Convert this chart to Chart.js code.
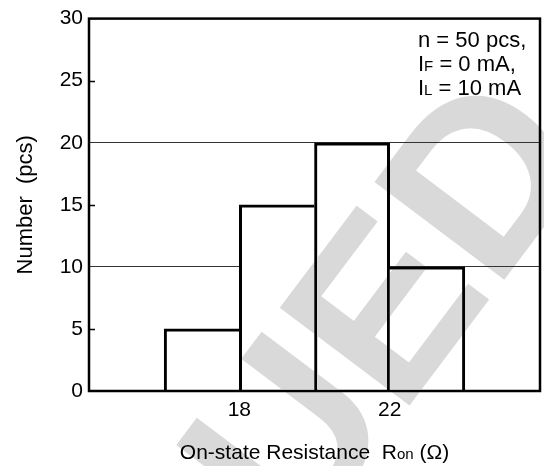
<!DOCTYPE html>
<html><head><meta charset="utf-8">
<script src="https://cdn.jsdelivr.net/npm/chart.js@4"></script>
<style>html,body{margin:0;padding:0;background:#fff}canvas{display:block}</style>
</head><body>
<canvas id="c" width="544" height="466"></canvas>
<script>
// ---- data ----
const binStarts = [16, 18, 20, 22];
const binEnds = [18, 20, 22, 24];
const counts = [5, 15, 20, 10];
const xTickValues = [18, 22];
const yTickValues = [0, 5, 10, 15, 20, 25, 30];
const yGridValues = [10, 20];
const yMinorTickValues = [5, 15, 25];
const annotationLines = [
  [["n = 50 pcs,", false]],
  [["I", false], ["F", true], [" = 0 mA,", false]],
  [["I", false], ["L", true], [" = 10 mA", false]]
];
const xTitleParts = [["On-state Resistance  R", false], ["on", true], [" (\u03A9)", false]];
const yTitleText = "Number  (pcs)";
const watermarkText = "DISCONTINUED";

const FONT = "'Liberation Sans', Arial, Helvetica, sans-serif";
Chart.defaults.font.family = FONT;
Chart.defaults.color = '#000';

const BW = 3;
function barBorder(ctx) {
  const i = ctx.dataIndex, n = counts.length;
  const left = (i === 0 || counts[i] > counts[i - 1]) ? BW : 0;
  const right = (i === n - 1 || counts[i] >= counts[i + 1]) ? BW : 0;
  return { left, right, top: BW, bottom: 0 };
}

function drawParts(ctx, parts, x, y, size, subSize) {
  let cx = x;
  for (const [t, sub] of parts) {
    ctx.font = (sub ? subSize : size) + 'px ' + FONT;
    ctx.fillText(t, cx, y);
    cx += ctx.measureText(t).width;
  }
  return cx - x;
}
function partsWidth(ctx, parts, size, subSize) {
  let w = 0;
  for (const [t, sub] of parts) {
    ctx.font = (sub ? subSize : size) + 'px ' + FONT;
    w += ctx.measureText(t).width;
  }
  return w;
}

const decorPlugin = {
  id: 'decor',
  afterDatasetsDraw(chart) {
    const { ctx, chartArea: a, scales } = chart;
    ctx.save();
    ctx.strokeStyle = '#000';
    ctx.lineWidth = 1.5;
    for (const v of yMinorTickValues) {
      const y = Math.round(scales.y.getPixelForValue(v)) + 0.5;
      ctx.beginPath(); ctx.moveTo(a.left, y); ctx.lineTo(a.left + 6, y); ctx.stroke();
    }
    ctx.lineWidth = 2.5;
    ctx.strokeRect(a.left, a.top, a.right - a.left, a.bottom - a.top);
    ctx.restore();
  },
  afterDraw(chart) {
    const { ctx, chartArea: a } = chart;
    ctx.save();
    ctx.fillStyle = '#000';
    ctx.textBaseline = 'alphabetic';
    ctx.textAlign = 'left';
    // annotation
    let y = 47;
    for (const line of annotationLines) {
      drawParts(ctx, line, 418, y, 22, 15);
      y += 24;
    }
    // x title
    const w = partsWidth(ctx, xTitleParts, 21, 15);
    drawParts(ctx, xTitleParts, (a.left + a.right) / 2 - w / 2, 459, 21, 15);
    // watermark
    ctx.globalCompositeOperation = 'darken';
    ctx.fillStyle = '#d9d9d9';
    ctx.font = 'bold 236px ' + FONT;
    ctx.translate(400, 418);
    ctx.rotate(-53 * Math.PI / 180);
    const pre = ctx.measureText(watermarkText.slice(0, -2)).width;
    ctx.fillText(watermarkText, -pre, 0);
    ctx.restore();
  }
};

new Chart(document.getElementById('c'), {
  type: 'bar',
  data: {
    datasets: [{
      data: binStarts.map((s, i) => ({ x: (s + binEnds[i]) / 2, y: counts[i] })),
      backgroundColor: '#fff',
      borderColor: '#000',
      borderWidth: barBorder,
      borderSkipped: 'start',
      barPercentage: 1,
      categoryPercentage: 1,
      grouped: false
    }]
  },
  options: {
    responsive: false,
    animation: false,
    devicePixelRatio: 1,
    layout: { padding: { left: 0, right: 4, top: 14, bottom: 0 } },
    plugins: { legend: { display: false }, tooltip: { enabled: false } },
    scales: {
      x: {
        type: 'linear', min: 14, max: 26, offset: false,
        afterBuildTicks: s => { s.ticks = xTickValues.map(v => ({ value: v })); },
        afterFit: s => { s.height = 75; },
        grid: { display: false, drawTicks: false },
        border: { display: false },
        ticks: { font: { size: 21 }, padding: 7, color: '#000', maxRotation: 0 }
      },
      y: {
        min: 0, max: 30,
        afterBuildTicks: s => { s.ticks = yTickValues.map(v => ({ value: v })); },
        afterFit: s => { s.width = 89; },
        grid: {
          drawTicks: false,
          color: c => yGridValues.includes(c.tick && c.tick.value) ? '#333' : 'rgba(0,0,0,0)',
          lineWidth: 1
        },
        border: { display: false },
        ticks: { font: { size: 21 }, padding: 6, color: '#000' },
        title: { display: true, text: yTitleText, font: { size: 22 }, color: '#000', padding: { top: 13, bottom: 0 } }
      }
    }
  },
  plugins: [decorPlugin]
});
</script>
</body></html>
